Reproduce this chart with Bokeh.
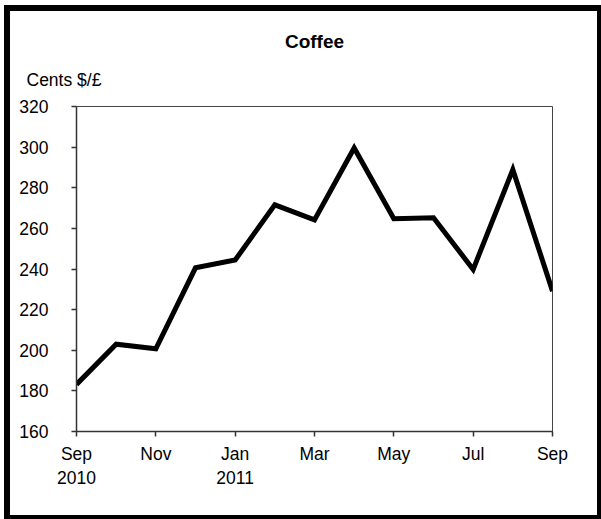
from bokeh.plotting import figure
from bokeh.models import Title, FixedTicker, Range1d, InlineStyleSheet
from bokeh.embed import file_html
from bokeh.resources import INLINE

# Data: monthly coffee price, cents $/£ (Sep 2010 .. Sep 2011)
months = ["Sep 2010", "Oct 2010", "Nov 2010", "Dec 2010", "Jan 2011", "Feb 2011",
          "Mar 2011", "Apr 2011", "May 2011", "Jun 2011", "Jul 2011", "Aug 2011", "Sep 2011"]
prices = [183.2, 203.0, 200.7, 240.6, 244.4, 271.6, 264.2, 299.6, 264.8, 265.2, 239.8, 288.9, 229.1]
tick_positions = [0, 2, 4, 6, 8, 10, 12]
tick_labels = ["Sep\n2010", "Nov", "Jan\n2011", "Mar", "May", "Jul", "Sep"]
y_ticks = [160, 180, 200, 220, 240, 260, 280, 300, 320]
title_text = "Coffee"
unit_text = "Cents $/£"

FONT = "Liberation Sans"
x = list(range(len(months)))

p = figure(width=601, height=519, output_backend="svg", toolbar_location=None,
           x_range=Range1d(0, 12), y_range=Range1d(160, 320),
           min_border_left=76, min_border_right=49, min_border_top=106, min_border_bottom=88)
p.title = None
p.background_fill_color = "white"
p.border_fill_color = "white"
p.outline_line_color = "#444444"
p.outline_line_width = 1
p.xgrid.visible = False
p.ygrid.visible = False

p.line(x, prices, line_color="black", line_width=5, line_join="miter")

for ax in (p.xaxis[0], p.yaxis[0]):
    ax.axis_line_color = "#333333"
    ax.axis_line_width = 1.5
    ax.major_tick_line_color = "#333333"
    ax.major_tick_line_width = 1.5
    ax.major_tick_in = 0
    ax.major_tick_out = 5
    ax.minor_tick_out = 0
    ax.minor_tick_in = 0
    ax.major_label_text_font = FONT
    ax.major_label_text_font_size = "17.5px"
    ax.major_label_text_color = "black"

p.xaxis.ticker = FixedTicker(ticks=tick_positions)
p.xaxis.major_label_overrides = {t: l for t, l in zip(tick_positions, tick_labels)}
p.xaxis.major_label_standoff = 7
p.yaxis.ticker = FixedTicker(ticks=y_ticks)
p.yaxis.major_label_standoff = 23

p.add_layout(Title(text=unit_text, align="left", offset=-50, standoff=33,
                   text_font=FONT, text_font_size="17.5px", text_font_style="normal",
                   text_color="black"), "above")
p.add_layout(Title(text=title_text, align="center", offset=-23, standoff=0,
                   text_font=FONT, text_font_size="19px", text_font_style="bold",
                   text_color="black"), "above")

css = """
:host::after {
  content: "";
  position: absolute;
  left: 4px; top: 5px; right: 0px; bottom: 0px;
  border-style: solid; border-color: black;
  border-width: 6px 4px 4px 6px;
  pointer-events: none;
  z-index: 1000;
}
"""
p.stylesheets = [InlineStyleSheet(css=css)]

open("out.html", "w").write(file_html(p, INLINE))
